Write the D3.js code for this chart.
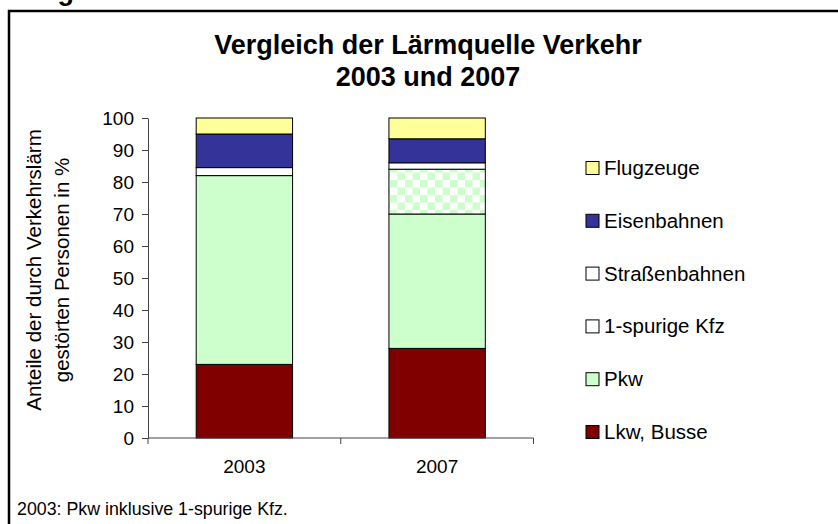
<!doctype html>
<html lang="de">
<head>
<meta charset="utf-8">
<title>Vergleich der Lärmquelle Verkehr</title>
<script src="https://cdn.jsdelivr.net/npm/d3@7"></script>
<style>
  body { margin: 0; background: #fff; }
  text { font-family: Arial, "Liberation Sans", sans-serif; fill: #000; }
</style>
</head>
<body>
<script>
var years = ["2003", "2007"];
var seriesNames = ["Lkw, Busse", "Pkw", "1-spurige Kfz", "Straßenbahnen", "Eisenbahnen", "Flugzeuge"];
var lkwBusse = [23, 28];
var pkw = [59, 42];
var einspurigeKfz = [0, 14];
var strassenbahnen = [2.5, 2];
var eisenbahnen = [10.5, 7.5];
var flugzeuge = [5, 6.5];
var yTicks = [0, 10, 20, 30, 40, 50, 60, 70, 80, 90, 100];

var svgW = 838, svgH = 524;
var colors = ["#800000", "#ccffcc", "url(#checker)", "#ffffff", "#333399", "#ffff99"];
var legendColors = ["#800000", "#ccffcc", "#ffffff", "#ffffff", "#333399", "#ffff99"];

var table = years.map(function(y, i) {
    return {
        year: y,
        "Lkw, Busse": lkwBusse[i],
        "Pkw": pkw[i],
        "1-spurige Kfz": einspurigeKfz[i],
        "Straßenbahnen": strassenbahnen[i],
        "Eisenbahnen": eisenbahnen[i],
        "Flugzeuge": flugzeuge[i]
    };
});
var stacked = d3.stack().keys(seriesNames)(table);

var svg = d3.select("body").append("svg")
            .attr("width", svgW)
            .attr("height", svgH);

var defs = svg.append("defs");
var pat = defs.append("pattern")
              .attr("id", "checker")
              .attr("patternUnits", "userSpaceOnUse")
              .attr("width", 15).attr("height", 15);
pat.append("rect").attr("width", 15).attr("height", 15).attr("fill", "#fff");
pat.append("rect").attr("width", 7.5).attr("height", 7.5).attr("fill", "#ccffcc");
pat.append("rect").attr("x", 7.5).attr("y", 7.5).attr("width", 7.5).attr("height", 7.5).attr("fill", "#ccffcc");

// cut-off heading above the frame
svg.append("text")
   .attr("x", 74).attr("y", 0)
   .attr("text-anchor", "end")
   .attr("font-size", "27px")
   .attr("font-weight", "bold")
   .text("Abbildung");

// frame (only left and top edges are inside the picture)
svg.append("rect")
   .attr("x", 9).attr("y", 11)
   .attr("width", 900).attr("height", 600)
   .attr("fill", "none")
   .attr("stroke", "#000")
   .attr("stroke-width", 2.5);

// title
var title = svg.append("text")
               .attr("text-anchor", "middle")
               .attr("font-size", "27px")
               .attr("font-weight", "bold");
title.append("tspan").attr("x", 428).attr("y", 54).text("Vergleich der Lärmquelle Verkehr");
title.append("tspan").attr("x", 428).attr("y", 86).text("2003 und 2007");

var xScale = d3.scaleBand()
               .domain(years)
               .range([148, 533.5])
               .paddingInner(0.5)
               .paddingOuter(0.25);

var yScale = d3.scaleLinear()
               .domain([0, 100])
               .range([438, 118]);

// bars
svg.selectAll("g.series")
   .data(stacked)
   .enter()
   .append("g")
   .attr("class", "series")
   .attr("fill", (d, i) => colors[i])
   .selectAll("rect")
   .data(d => d)
   .enter()
   .append("rect")
   .attr("x", d => xScale(d.data.year))
   .attr("y", d => yScale(d[1]))
   .attr("width", xScale.bandwidth())
   .attr("height", d => yScale(d[0]) - yScale(d[1]))
   .attr("stroke", "#000")
   .attr("stroke-width", 1);

// y axis
var yAxis = d3.axisLeft(yScale)
              .tickValues(yTicks)
              .tickSize(6)
              .tickPadding(8)
              .tickSizeOuter(0);
var gy = svg.append("g")
            .attr("transform", "translate(148,0)")
            .call(yAxis);
gy.selectAll("text").attr("font-size", "19px").attr("font-family", null);
gy.selectAll("line, path").attr("stroke", "#444");

// x axis with ticks between categories
svg.append("line")
   .attr("x1", 148).attr("x2", 533.5)
   .attr("y1", 438).attr("y2", 438)
   .attr("stroke", "#444");
var bounds = [148, xScale.range()[0] + xScale.step() * 1, 533.5];
svg.selectAll("line.xtick")
   .data(bounds)
   .enter()
   .append("line")
   .attr("class", "xtick")
   .attr("x1", d => d).attr("x2", d => d)
   .attr("y1", 438).attr("y2", 444)
   .attr("stroke", "#444");
svg.selectAll("text.xlabel")
   .data(years)
   .enter()
   .append("text")
   .attr("class", "xlabel")
   .attr("x", d => xScale(d) + xScale.bandwidth() / 2)
   .attr("y", 473)
   .attr("text-anchor", "middle")
   .attr("font-size", "19px")
   .text(d => d);

// y axis title
var yTitle = svg.append("text")
                .attr("transform", "translate(0,270) rotate(-90)")
                .attr("text-anchor", "middle")
                .attr("font-size", "20.5px");
yTitle.append("tspan").attr("x", 0).attr("y", 41).text("Anteile der durch Verkehrslärm");
yTitle.append("tspan").attr("x", 0).attr("y", 69).text("gestörten Personen in %");

// legend
var legendY = d3.scalePoint()
                .domain(seriesNames.slice().reverse())
                .range([168, 432]);
var leg = svg.selectAll("g.legend")
             .data(seriesNames)
             .enter()
             .append("g")
             .attr("class", "legend")
             .attr("transform", d => "translate(586," + legendY(d) + ")");
leg.append("rect")
   .attr("x", 0).attr("y", -6.5)
   .attr("width", 13).attr("height", 13)
   .attr("fill", (d, i) => legendColors[i])
   .attr("stroke", "#000");
leg.append("text")
   .attr("x", 18).attr("y", 7)
   .attr("font-size", "20.5px")
   .text(d => d);

// footnote
svg.append("text")
   .attr("x", 17).attr("y", 515)
   .attr("font-size", "17.8px")
   .text("2003: Pkw inklusive 1-spurige Kfz.");
</script>
</body>
</html>
